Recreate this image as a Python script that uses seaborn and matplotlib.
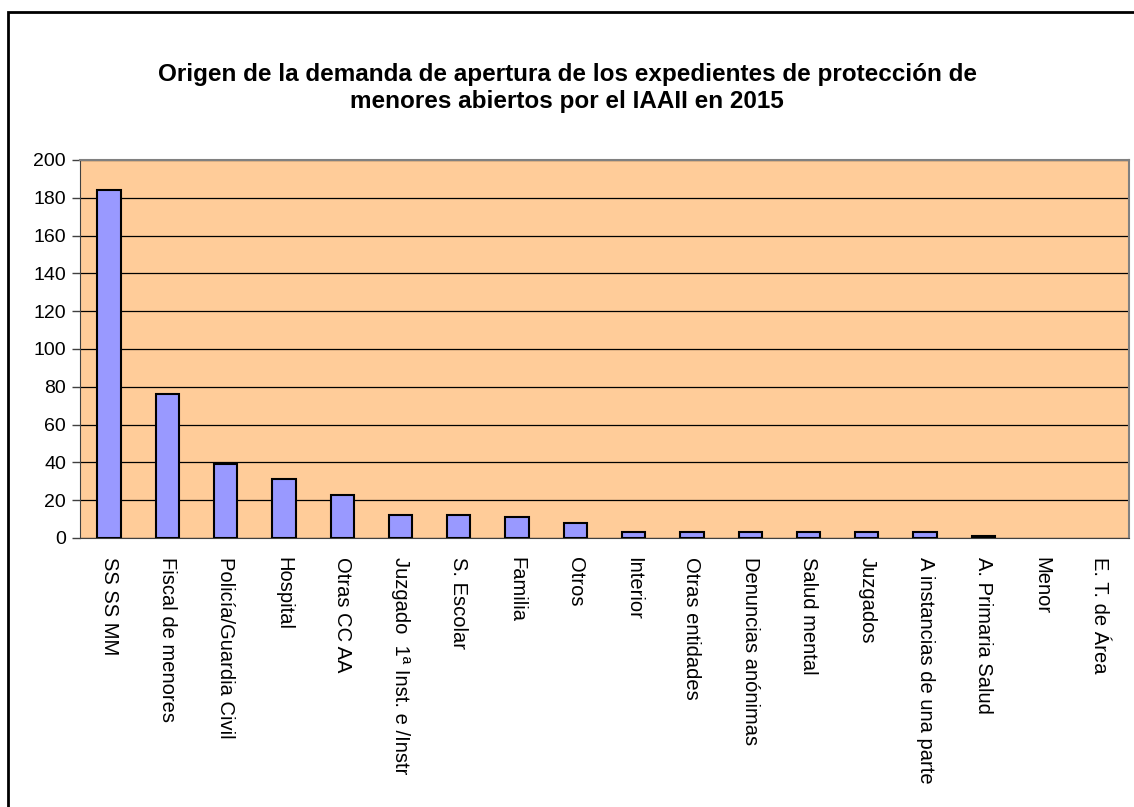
import seaborn as sns
import numpy as np
import pandas as pd
import matplotlib.pyplot as plt
from matplotlib.patches import Rectangle

# Data
categorias = ['SS SS MM', 'Fiscal de menores', 'Policía/Guardia Civil', 'Hospital',
              'Otras CC AA', 'Juzgado  1ª Inst. e /Instr', 'S. Escolar', 'Familia',
              'Otros', 'Interior', 'Otras entidades', 'Denuncias anónimas',
              'Salud mental', 'Juzgados', 'A instancias de una parte',
              'A. Primaria Salud', 'Menor', 'E. T. de Área']
expedientes = [184, 76, 39, 31, 23, 12, 12, 11, 8, 3, 3, 3, 3, 3, 3, 1, 0, 0]
y_ticks = list(range(0, 201, 20))

titulo = ('Origen de la demanda de apertura de los expedientes de protección de\n'
          'menores abiertos por el IAAII en 2015')

sns.set_style('white')
plt.rcParams['font.family'] = ['Liberation Sans', 'DejaVu Sans']
plt.rcParams['text.color'] = 'black'
plt.rcParams['xtick.labelcolor'] = 'black'
plt.rcParams['ytick.labelcolor'] = 'black'

df = pd.DataFrame({'origen': categorias, 'n': expedientes})

fig = plt.figure(figsize=(11.34, 8.07), dpi=100)
ax = fig.add_axes([80 / 1134, 1 - 538 / 807, 1049 / 1134, 378 / 807])

sns.barplot(data=df, x='origen', y='n', color='#9999FF', saturation=1,
            edgecolor='black', linewidth=1.5, width=0.4, ax=ax, zorder=3)

# empty categories get no outline
for bar, v in zip(ax.patches, expedientes):
    if v == 0:
        bar.set_edgecolor('none')

ax.set_facecolor('#FFCC99')
ax.set_xlim(-0.5, len(categorias) - 0.5)
ax.set_ylim(0, 200)
ax.set_yticks(y_ticks)
ax.set_xlabel('')
ax.set_ylabel('')

# horizontal gridlines
ax.yaxis.grid(True, color='black', linewidth=0.9, zorder=0)
ax.set_axisbelow(True)

for side in ['top', 'right']:
    ax.spines[side].set_color('#808080')
    ax.spines[side].set_linewidth(1.5)
ax.spines['left'].set_color('#404040')
ax.spines['bottom'].set_color('#404040')

# category labels, ticks between categories
ax.set_xticks(range(len(categorias)))
ax.set_xticklabels(categorias, rotation=270, ha='center', va='top', fontsize=14.5)
ax.set_xticks(np.arange(-0.5, len(categorias), 1), minor=True)
ax.tick_params(axis='x', which='major', length=0, pad=14, labelcolor='black')
ax.tick_params(axis='x', which='minor', length=6, width=1, color='#404040', direction='out')
ax.tick_params(axis='y', length=6, width=1, color='#404040', direction='out',
               labelsize=14, pad=4, left=True, labelcolor='black')

fig.text(0.5, 1 - 88 / 807, titulo, ha='center', va='center', fontsize=17.5,
         fontweight='bold', linespacing=1.25, color='black')

# outer chart frame
fig.patches.append(Rectangle((8 / 1134, -0.05), 1.2, 1 - 12 / 807 + 0.05,
                             transform=fig.transFigure, fill=False,
                             edgecolor='black', linewidth=2))

fig.savefig('out.png', dpi=100)
